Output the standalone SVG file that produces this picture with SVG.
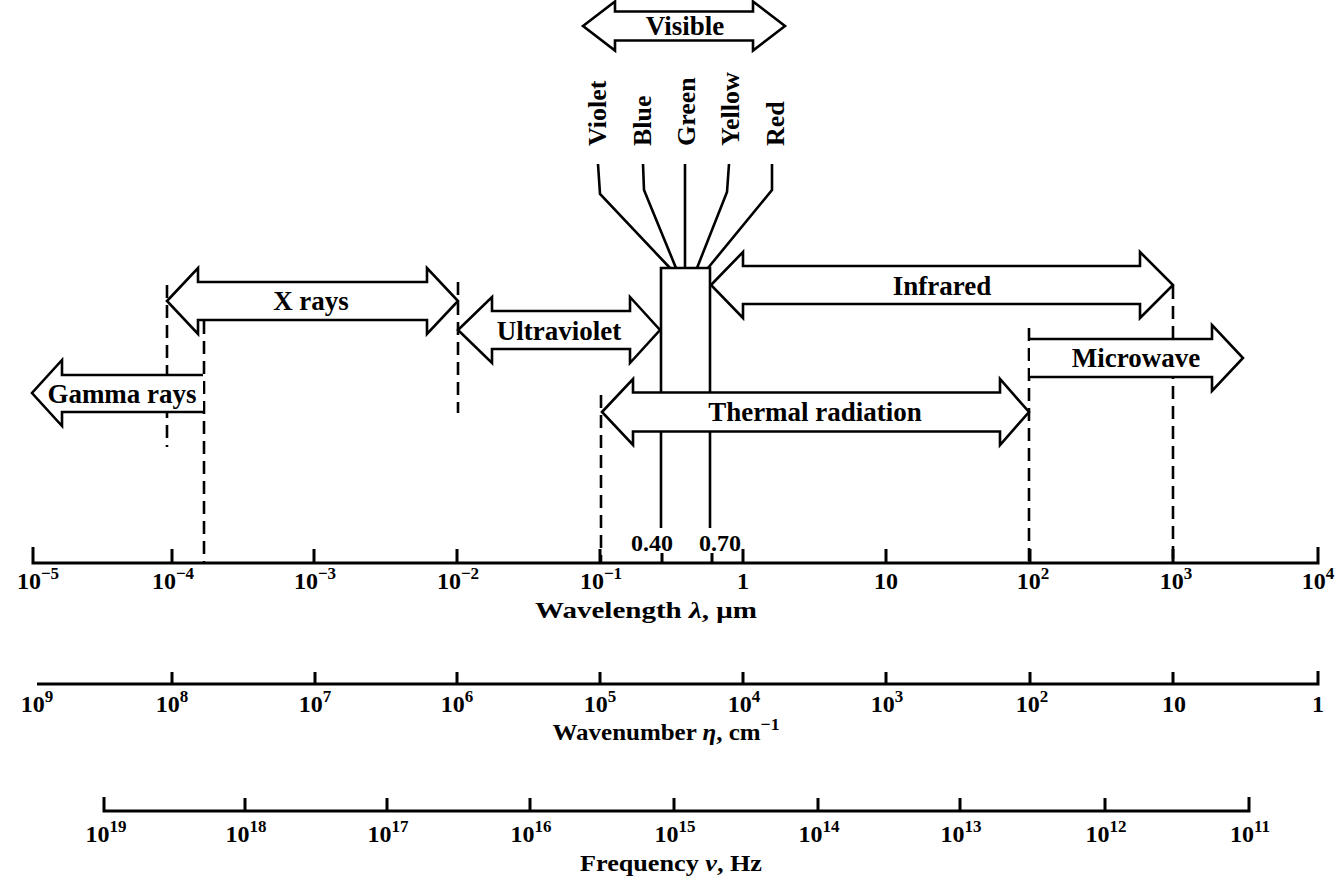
<svg xmlns="http://www.w3.org/2000/svg" width="1337" height="892" viewBox="0 0 1337 892">
<style>
.ar{fill:#fff;stroke:#000;stroke-width:2.6;stroke-linejoin:miter}
.ln{fill:none;stroke:#000;stroke-width:2.6}
.dash{fill:none;stroke:#000;stroke-width:2.6;stroke-dasharray:13 7}
.ax{fill:none;stroke:#000;stroke-width:3}
text{font-family:"Liberation Serif","Times New Roman",serif;font-weight:bold;fill:#000}
.lbl{font-size:27px;text-anchor:middle}
.col{font-size:26px}
.tl{font-size:24px;text-anchor:middle}
.sup{font-size:17px}
.ttl{font-size:24px;text-anchor:middle}
</style>
<rect width="1337" height="892" fill="#fff"/>

<g id="connectors">
  <line class="dash" x1="167" y1="285" x2="167" y2="447"/>
  <line class="dash" x1="204" y1="321" x2="204" y2="562"/>
  <line class="dash" x1="458" y1="282" x2="458" y2="413"/>
  <line class="dash" x1="601" y1="395" x2="601" y2="562"/>
  <line class="dash" x1="1029" y1="328" x2="1029" y2="562"/>
  <line class="dash" x1="1173" y1="286" x2="1173" y2="562"/>
  <path class="ln" d="M661,528 V268 H710 V528"/>
  <polyline class="ln" points="598,164 600,194 670,268"/>
  <polyline class="ln" points="643,164 644,190 676,268"/>
  <polyline class="ln" points="685,164 685,268"/>
  <polyline class="ln" points="729,164 727,192 697,268"/>
  <polyline class="ln" points="772,164 772,190 708,268"/>
</g>

<g id="visible">
  <polygon class="ar" points="583,26 615,1.5 615,11.5 753,11.5 753,1.5 785,26 753,50.5 753,40.5 615,40.5 615,50.5"/>
  <text class="lbl" x="685" y="35">Visible</text>
</g>

<g id="colours">
  <text class="col" transform="translate(606,146) rotate(-90)">Violet</text>
  <text class="col" transform="translate(651,146) rotate(-90)">Blue</text>
  <text class="col" transform="translate(695,146) rotate(-90)">Green</text>
  <text class="col" transform="translate(739,146) rotate(-90)">Yellow</text>
  <text class="col" transform="translate(784,146) rotate(-90)">Red</text>
</g>

<g id="xrays">
  <polygon class="ar" points="167,301 198,268 198,282 427,282 427,268 458,301 427,334 427,320 198,320 198,334"/>
  <text class="lbl" x="311" y="310">X rays</text>
</g>

<g id="gamma">
  <polyline class="ar" points="203,375 62,375 62,360 32,393 62,426 62,412 203,412"/>
  <text class="lbl" x="122" y="403">Gamma rays</text>
</g>

<g id="ultraviolet">
  <polygon class="ar" points="458,330 492,297 492,311 630,311 630,297 660,330 630,363 630,349 492,349 492,363"/>
  <text class="lbl" x="559" y="340">Ultraviolet</text>
</g>

<g id="infrared">
  <polygon class="ar" points="711,285 743,252 743,266 1140,266 1140,252 1173,285 1140,318 1140,304 743,304 743,318"/>
  <text class="lbl" x="942" y="295">Infrared</text>
</g>

<g id="thermal">
  <polygon class="ar" points="602,412 633,379 633,392.5 1000,392.5 1000,379 1029,412 1000,445 1000,431.5 633,431.5 633,445"/>
  <text class="lbl" x="815" y="421">Thermal radiation</text>
</g>

<g id="microwave">
  <polyline class="ar" points="1030,339 1212,339 1212,325 1243,358 1212,391 1212,377 1030,377"/>
  <text class="lbl" x="1136" y="367">Microwave</text>
</g>

<g id="wavelength-axis">
  <path class="ax" d="M33,547 V563 H1318 V547"/>
  <path class="ax" d="M172,549 V563 M314,549 V563 M457,549 V563 M600,549 V563 M662,553 V563 M712,553 V563 M743,549 V563 M886,549 V563 M1030,549 V563 M1173,549 V563"/>
  <text class="tl" x="652" y="551">0.40</text>
  <text class="tl" x="720" y="551">0.70</text>
  <text class="tl" x="38" y="589">10<tspan class="sup" dy="-10">−5</tspan></text>
  <text class="tl" x="173" y="589">10<tspan class="sup" dy="-10">−4</tspan></text>
  <text class="tl" x="315" y="589">10<tspan class="sup" dy="-10">−3</tspan></text>
  <text class="tl" x="458" y="589">10<tspan class="sup" dy="-10">−2</tspan></text>
  <text class="tl" x="601" y="589">10<tspan class="sup" dy="-10">−1</tspan></text>
  <text class="tl" x="743" y="589">1</text>
  <text class="tl" x="886" y="589">10</text>
  <text class="tl" x="1033" y="589">10<tspan class="sup" dy="-10">2</tspan></text>
  <text class="tl" x="1176" y="589">10<tspan class="sup" dy="-10">3</tspan></text>
  <text class="tl" x="1318" y="589">10<tspan class="sup" dy="-10">4</tspan></text>
  <text class="ttl" x="646" y="618" textLength="222" lengthAdjust="spacingAndGlyphs">Wavelength <tspan font-style="italic">λ</tspan>, μm</text>
</g>

<g id="wavenumber-axis">
  <path class="ax" d="M37,684 H1318 V671"/>
  <path class="ax" d="M172,672 V684 M315,672 V684 M457,672 V684 M600,672 V684 M743,672 V684 M886,672 V684 M1030,672 V684 M1173,672 V684"/>
  <text class="tl" x="37" y="712">10<tspan class="sup" dy="-10">9</tspan></text>
  <text class="tl" x="172" y="712">10<tspan class="sup" dy="-10">8</tspan></text>
  <text class="tl" x="315" y="712">10<tspan class="sup" dy="-10">7</tspan></text>
  <text class="tl" x="457" y="712">10<tspan class="sup" dy="-10">6</tspan></text>
  <text class="tl" x="600" y="712">10<tspan class="sup" dy="-10">5</tspan></text>
  <text class="tl" x="744" y="712">10<tspan class="sup" dy="-10">4</tspan></text>
  <text class="tl" x="887" y="712">10<tspan class="sup" dy="-10">3</tspan></text>
  <text class="tl" x="1032" y="712">10<tspan class="sup" dy="-10">2</tspan></text>
  <text class="tl" x="1174" y="712">10</text>
  <text class="tl" x="1318" y="712">1</text>
  <text class="ttl" x="666" y="740" textLength="227" lengthAdjust="spacingAndGlyphs">Wavenumber <tspan font-style="italic">η</tspan>, cm<tspan class="sup" dy="-10">−1</tspan></text>
</g>

<g id="frequency-axis">
  <path class="ax" d="M104,797 V811 H1249 V797"/>
  <path class="ax" d="M245,798 V811 M387,798 V811 M530,798 V811 M674,798 V811 M818,798 V811 M960,798 V811 M1105,798 V811"/>
  <text class="tl" x="106" y="842">10<tspan class="sup" dy="-10">19</tspan></text>
  <text class="tl" x="246" y="842">10<tspan class="sup" dy="-10">18</tspan></text>
  <text class="tl" x="388" y="842">10<tspan class="sup" dy="-10">17</tspan></text>
  <text class="tl" x="531" y="842">10<tspan class="sup" dy="-10">16</tspan></text>
  <text class="tl" x="675" y="842">10<tspan class="sup" dy="-10">15</tspan></text>
  <text class="tl" x="819" y="842">10<tspan class="sup" dy="-10">14</tspan></text>
  <text class="tl" x="961" y="842">10<tspan class="sup" dy="-10">13</tspan></text>
  <text class="tl" x="1106" y="842">10<tspan class="sup" dy="-10">12</tspan></text>
  <text class="tl" x="1250" y="842">10<tspan class="sup" dy="-10">11</tspan></text>
  <text class="ttl" x="671" y="871" textLength="182" lengthAdjust="spacingAndGlyphs">Frequency <tspan font-style="italic">ν</tspan>, Hz</text>
</g>
</svg>
